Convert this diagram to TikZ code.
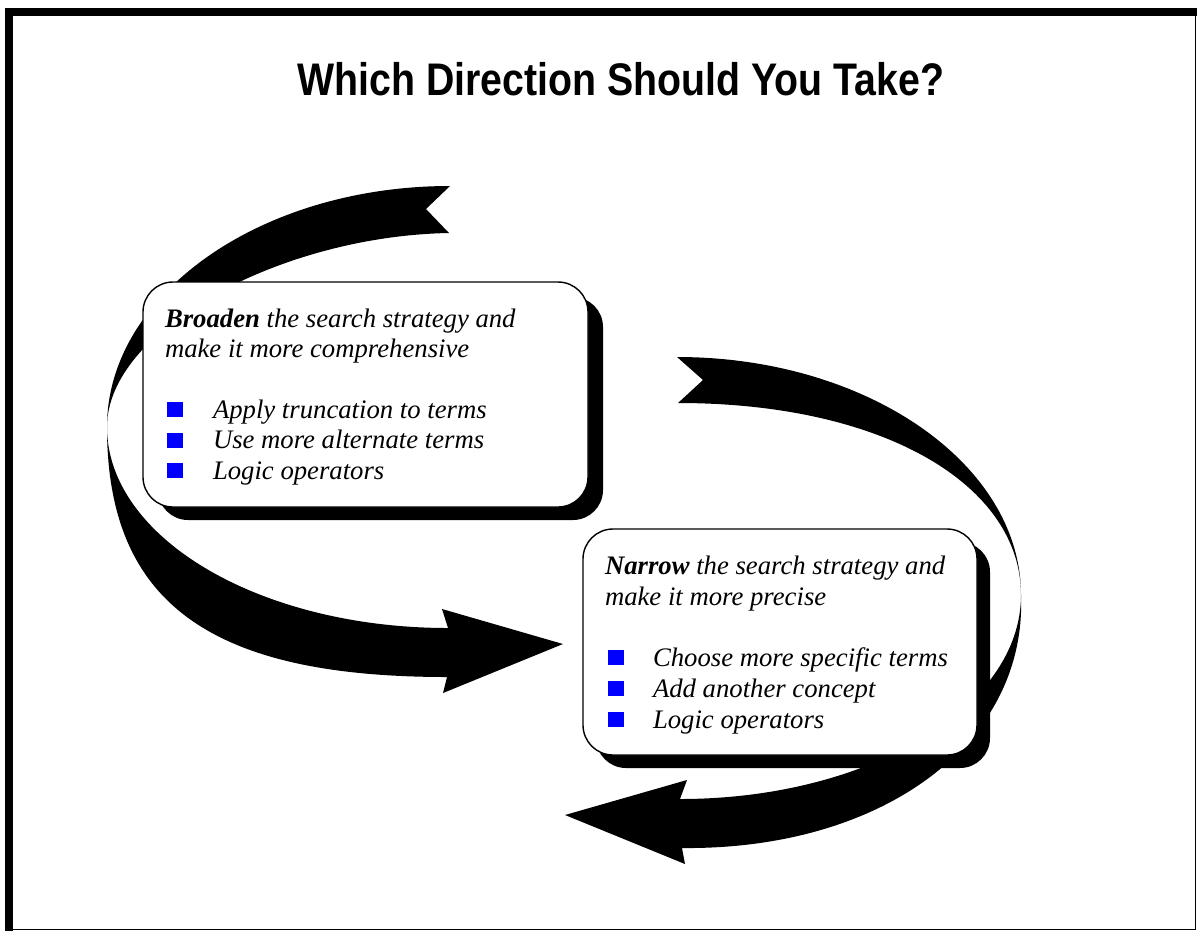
\documentclass[tikz,border=0pt]{standalone}
\usepackage{fontspec}
\setmainfont{Liberation Serif}
\newfontfamily\headfont{Liberation Sans}
\begin{document}
\begin{tikzpicture}
  [x=0.02cm,y=-0.02cm,every node/.style={inner sep=0pt,outer sep=0pt}]
  \tikzstyle{ribbon} = [fill=black]
  \tikzstyle{panel} = [draw=black,line width=0.8pt,fill=white,rounded corners=0.6cm]
  \tikzstyle{shade} = [fill=black,rounded corners=0.6cm]
  \tikzstyle{txt} = [anchor=base west,font=\fontsize{15.2}{17}\selectfont\itshape]
  \tikzstyle{sq} = [fill=blue,anchor=south west,minimum width=0.32cm,minimum height=0.3cm]
  \useasboundingbox (0,0) rectangle (1197,931);
  % frame
  \fill (5,8) rectangle (1197,16);
  \fill (5,8) rectangle (13,931);
  \draw[line width=0.85pt] (13,929.5) -- (1195.5,929.5) -- (1195.5,16);
  % title
  \node[anchor=base,font=\headfont\bfseries\fontsize{26}{30}\selectfont,xscale=0.86] (title) at (621,95) {Which Direction Should You Take?};
  % broaden arrow
  \fill[ribbon] (450,186) .. controls (261,186) and (107,294) .. (107,427)
    .. controls (107,602) and (209,677) .. (447,677)
    -- (443,693) -- (563,644) -- (442,609) -- (448,628)
    .. controls (260,628) and (107,538) .. (107,427)
    .. controls (107,330) and (280,236) .. (449,233)
    -- (426,209) -- cycle;
  % narrow arrow
  \fill[ribbon] (677,357) .. controls (867,357) and (1021,464) .. (1021,595)
    .. controls (1027,745) and (880,850) .. (682,848)
    -- (685,864) -- (565,815) -- (687,780) -- (680,799)
    .. controls (868,799) and (1021,708) .. (1021,595)
    .. controls (1021,485) and (884,403) .. (678,403)
    -- (703,380) -- cycle;
  % boxes
  \fill[shade] (158,297) rectangle (603,520);
  \draw[panel] (143,282) rectangle (588,507);
  \fill[shade] (596,542) rectangle (990,768);
  \draw[panel] (583,529) rectangle (977,755);
  % broaden text
  \node[txt] (bhead) at (165,327) {\textbf{Broaden} the search strategy and};
  \node[txt] (bsub) at (165,357) {make it more comprehensive};
  \foreach \y/\entry [count=\i] in {418/Apply truncation to terms,448.5/Use more alternate terms,479/Logic operators}{
    \node[sq] (bsq\i) at (167,\y-1) {};
    \node[txt] (bitem\i) at (213,\y) {\entry};
  }
  % narrow text
  \node[txt] (nhead) at (605,574) {\textbf{Narrow} the search strategy and};
  \node[txt] (nsub) at (605,605) {make it more precise};
  \foreach \y/\entry [count=\i] in {666/Choose more specific terms,697/Add another concept,728/Logic operators}{
    \node[sq] (nsq\i) at (608,\y-1) {};
    \node[txt] (nitem\i) at (653,\y) {\entry};
  }
\end{tikzpicture}
\end{document}
